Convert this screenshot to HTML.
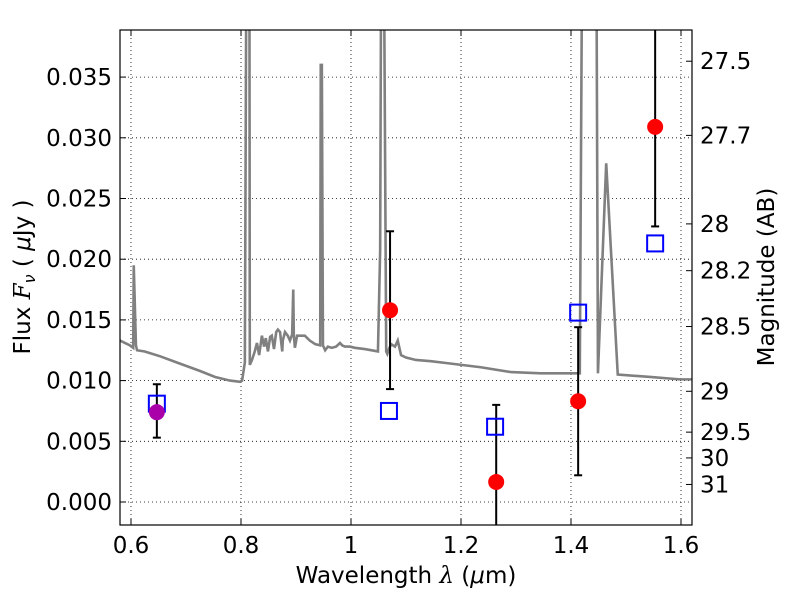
<!DOCTYPE html>
<html><head><meta charset="utf-8"><style>
body{margin:0;background:#fff;}
svg{font-family:"DejaVu Sans","Liberation Sans",sans-serif;}
</style></head><body>
<svg id="chart" width="800" height="600"></svg>
<script>
const specX=[0.58,0.598,0.604,0.605,0.609,0.611,0.625,0.653,0.689,0.725,0.753,0.78,0.798,0.802,0.807,0.811,0.815,0.816,0.82,0.825,0.829,0.833,0.838,0.842,0.845,0.849,0.853,0.856,0.86,0.864,0.867,0.871,0.875,0.876,0.88,0.885,0.889,0.893,0.895,0.896,0.898,0.902,0.907,0.916,0.925,0.935,0.944,0.945,0.947,0.949,0.953,0.958,0.965,0.973,0.98,0.984,0.989,0.998,1.007,1.025,1.049,1.053,1.056,1.058,1.064,1.066,1.069,1.073,1.08,1.085,1.091,1.1,1.118,1.145,1.182,1.236,1.291,1.345,1.38,1.416,1.422,1.445,1.449,1.464,1.485,1.544,1.598,1.62];
const specY=[0.0133,0.0129,0.0127,0.0195,0.0129,0.0125,0.0124,0.012,0.0114,0.0108,0.0103,0.0100,0.0099,0.0100,0.0115,0.06,0.06,0.0113,0.0117,0.0124,0.0131,0.0121,0.0137,0.0128,0.0135,0.0124,0.0136,0.0137,0.0126,0.014,0.0142,0.014,0.0124,0.0133,0.014,0.0137,0.0133,0.0138,0.0175,0.0138,0.0127,0.0137,0.0137,0.0137,0.0133,0.0130,0.0129,0.036,0.036,0.0129,0.0125,0.0128,0.0127,0.0128,0.0131,0.0129,0.0128,0.0128,0.0127,0.0126,0.0124,0.0207,0.06,0.06,0.0124,0.0122,0.0126,0.013,0.0128,0.0133,0.0121,0.0119,0.0117,0.0116,0.0114,0.0111,0.0107,0.0106,0.0106,0.0106,0.06,0.06,0.0106,0.0279,0.0105,0.0103,0.0101,0.0101];
const modelX=[0.647,1.069,1.262,1.413,1.553];
const modelY=[0.0081,0.0075,0.0062,0.0156,0.0213];
const obsX=[1.071,1.264,1.413,1.553];
const obsY=[0.0158,0.00165,0.0083,0.0309];
const obsLo=[0.0093,-0.005,0.0022,0.0227];
const obsHi=[0.0223,0.0080,0.0144,0.06];
const purpX=[0.647], purpY=[0.0074], purpLo=[0.0053], purpHi=[0.0097];
const xTicks=[0.6,0.8,1.0,1.2,1.4,1.6], xLabels=["0.6","0.8","1","1.2","1.4","1.6"];
const yTicks=[0,0.005,0.01,0.015,0.02,0.025,0.03,0.035];
const yLabels=["0.000","0.005","0.010","0.015","0.020","0.025","0.030","0.035"];
const magTicks=[27.5,27.7,28,28.2,28.5,29,29.5,30,31];
const magLabels=["27.5","27.7","28","28.2","28.5","29","29.5","30","31"];

const L=120,R=692,T=30,B=525;
const X=v=>131+(v-0.6)*550;
const Y=v=>502-v*12140;
const ns="http://www.w3.org/2000/svg";
const svg=document.getElementById('chart');
function mk(tag,attrs,parent){const e=document.createElementNS(ns,tag);for(const k in attrs)e.setAttribute(k,attrs[k]);(parent||svg).appendChild(e);return e;}
const defs=mk('defs',{});const cp=mk('clipPath',{id:'c'},defs);mk('rect',{x:L,y:T,width:R-L,height:B-T},cp);
const grid=mk('g',{});


xTicks.forEach(t=>mk('line',{x1:X(t),x2:X(t),y1:T,y2:B,stroke:'#000','stroke-dasharray':'1,3','stroke-width':0.8},grid));
yTicks.forEach(t=>mk('line',{x1:L,x2:R,y1:Y(t),y2:Y(t),stroke:'#000','stroke-dasharray':'1,3','stroke-width':0.8},grid));
const plot=mk('g',{'clip-path':'url(#c)'});
const spec=mk('polyline',{points:specX.map((x,i)=>X(x)+','+Y(specY[i])).join(' '),fill:'none',stroke:'#808080','stroke-width':2.6},plot);


function ebar(x,lo,hi){const g=mk('g',{},plot);


mk('line',{x1:X(x),x2:X(x),y1:Y(lo),y2:Y(hi),stroke:'#000','stroke-width':2},g);
mk('line',{x1:X(x)-4,x2:X(x)+4,y1:Y(lo),y2:Y(lo),stroke:'#000','stroke-width':2},g);
mk('line',{x1:X(x)-4,x2:X(x)+4,y1:Y(hi),y2:Y(hi),stroke:'#000','stroke-width':2},g);}
purpX.forEach((x,i)=>ebar(x,purpLo[i],purpHi[i]));
obsX.forEach((x,i)=>ebar(x,obsLo[i],obsHi[i]));
modelX.forEach((x,i)=>{const r=mk('rect',{x:X(x)-8,y:Y(modelY[i])-8,width:16,height:16,fill:'none',stroke:'#0000ff','stroke-width':2},plot);

});
purpX.forEach((x,i)=>{const c=mk('circle',{cx:X(x),cy:Y(purpY[i]),r:8,fill:'#aa00aa'},plot);

});
obsX.forEach((x,i)=>{const c=mk('circle',{cx:X(x),cy:Y(obsY[i]),r:8,fill:'#ff0000'},plot);

});
const frame=mk('rect',{x:L,y:T,width:R-L,height:B-T,fill:'none',stroke:'#000','stroke-width':1.2});


xTicks.forEach((t,i)=>{mk('line',{x1:X(t),x2:X(t),y1:B,y2:B-6,stroke:'#000'});mk('line',{x1:X(t),x2:X(t),y1:T,y2:T+6,stroke:'#000'});
const tx=mk('text',{x:X(t),y:B+28,'text-anchor':'middle','font-size':23});tx.textContent=xLabels[i];

});
yTicks.forEach((t,i)=>{mk('line',{x1:L,x2:L+6,y1:Y(t),y2:Y(t),stroke:'#000'});
const tx=mk('text',{x:L-8,y:Y(t)+8,'text-anchor':'end','font-size':23});tx.textContent=yLabels[i];

});
magTicks.forEach((m,i)=>{const yy=Y(Math.pow(10,(23.9-m)/2.5));mk('line',{x1:R,x2:R-6,y1:yy,y2:yy,stroke:'#000'});
const tx=mk('text',{x:R+8,y:yy+8,'font-size':23});tx.textContent=magLabels[i];

});
</script>
<svg width="800" height="600" style="position:absolute;left:0;top:0" font-family="DejaVu Sans, Liberation Sans, sans-serif">
<text x="406" y="583" text-anchor="middle" font-size="23">Wavelength  <tspan font-style="italic" font-family="DejaVu Serif, serif">λ</tspan> (<tspan font-style="italic">μ</tspan>m)</text>
<text transform="translate(30,277) rotate(-90)" text-anchor="middle" font-size="23">Flux  <tspan font-style="italic" font-family="DejaVu Serif, serif">F</tspan><tspan font-style="italic" font-size="16" dy="5">ν</tspan><tspan dy="-5">  ( </tspan><tspan font-style="italic">μ</tspan>Jy )</text>
<text transform="translate(774,277) rotate(-90)" text-anchor="middle" font-size="23">Magnitude (AB)</text>
</svg>
</body></html>
